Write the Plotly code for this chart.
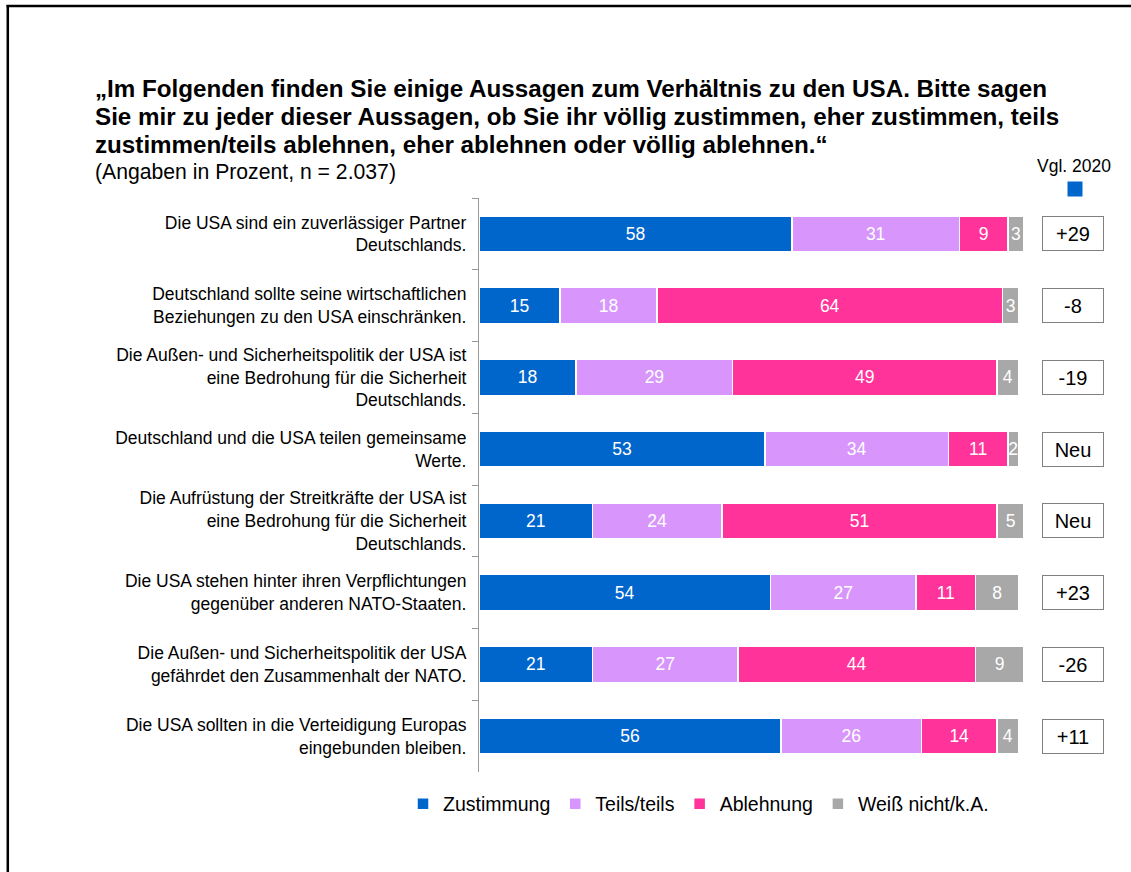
import plotly.graph_objects as go

labels = [
    "Die USA sind ein zuverlässiger Partner<br>Deutschlands.",
    "Deutschland sollte seine wirtschaftlichen<br>Beziehungen zu den USA einschränken.",
    "Die Außen- und Sicherheitspolitik der USA ist<br>eine Bedrohung für die Sicherheit<br>Deutschlands.",
    "Deutschland und die USA teilen gemeinsame<br>Werte.",
    "Die Aufrüstung der Streitkräfte der USA ist<br>eine Bedrohung für die Sicherheit<br>Deutschlands.",
    "Die USA stehen hinter ihren Verpflichtungen<br>gegenüber anderen NATO-Staaten.",
    "Die Außen- und Sicherheitspolitik der USA<br>gefährdet den Zusammenhalt der NATO.",
    "Die USA sollten in die Verteidigung Europas<br>eingebunden bleiben.",
]
zustimmung = [58, 15, 18, 53, 21, 54, 21, 56]
teils = [31, 18, 29, 34, 24, 27, 27, 26]
ablehnung = [9, 64, 49, 11, 51, 11, 44, 14]
weiss_nicht = [3, 3, 4, 2, 5, 8, 9, 4]
vgl_2020 = ["+29", "-8", "-19", "Neu", "Neu", "+23", "-26", "+11"]

title_lines = [
    "„Im Folgenden finden Sie einige Aussagen zum Verhältnis zu den USA. Bitte sagen",
    "Sie mir zu jeder dieser Aussagen, ob Sie ihr völlig zustimmen, eher zustimmen, teils",
    "zustimmen/teils ablehnen, eher ablehnen oder völlig ablehnen.“",
]
subtitle = "(Angaben in Prozent, n = 2.037)"

series = [
    ("Zustimmung", zustimmung, "#0066CC"),
    ("Teils/teils", teils, "#D896FC"),
    ("Ablehnung", ablehnung, "#FF3399"),
    ("Weiß nicht/k.A.", weiss_nicht, "#A8A8A8"),
]

FONT = "Liberation Sans, Arial, sans-serif"
W, H = 1131, 872
L, R, T, B = 479, 107, 198, 100
pw, ph = W - L - R, H - T - B


def px(x):
    return (x - L) / pw


def py(y):
    return (H - B - y) / ph


fig = go.Figure()
for name, vals, color in series:
    fig.add_trace(go.Bar(
        name=name, y=labels, x=vals, orientation="h",
        marker=dict(color=color, line=dict(color="white", width=1.5)),
        text=[str(v) for v in vals], textposition="inside",
        insidetextanchor="middle", constraintext="none",
        textfont=dict(color="white", size=17.5, family=FONT),
        width=0.5, cliponaxis=False,
    ))

annotations = []
for lab, v in zip(labels, vgl_2020):
    annotations.append(dict(
        xref="paper", yref="y", x=px(1073), y=lab, text=v, showarrow=False,
        font=dict(size=20, color="black", family=FONT),
        width=58, height=31, bordercolor="#808080", borderwidth=1,
        borderpad=1, bgcolor="white", xanchor="center", yanchor="middle",
    ))

for i, line in enumerate(title_lines):
    annotations.append(dict(
        xref="paper", yref="paper", x=px(93), y=py(88 + 28 * i),
        xanchor="left", yanchor="middle", showarrow=False,
        text="<b>" + line + "</b>",
        font=dict(size=24.2, color="black", family=FONT),
    ))
annotations.append(dict(
    xref="paper", yref="paper", x=px(93), y=py(172), xanchor="left", yanchor="middle",
    showarrow=False, text=subtitle,
    font=dict(size=21.2, color="black", family=FONT),
))
annotations.append(dict(
    xref="paper", yref="paper", x=px(1074), y=py(166), xanchor="center", yanchor="middle",
    showarrow=False, text="Vgl. 2020",
    font=dict(size=17.5, color="black", family=FONT),
))

shapes = [
    dict(type="rect", xref="paper", yref="paper", x0=px(1067.5), x1=px(1082.5),
         y0=py(196.5), y1=py(181.5), fillcolor="#0066CC", line=dict(width=0)),
    dict(type="line", xref="paper", yref="paper", x0=px(7.8), x1=px(7.8),
         y0=py(5), y1=py(880), line=dict(color="black", width=2.5)),
    dict(type="line", xref="paper", yref="paper", x0=px(6.5), x1=px(1140),
         y0=py(6), y1=py(6), line=dict(color="black", width=2.5)),
]

fig.update_layout(
    width=W, height=H,
    margin=dict(l=L, r=R, t=T, b=B),
    barmode="stack", bargap=0.5,
    plot_bgcolor="white", paper_bgcolor="white",
    font=dict(family=FONT, size=14, color="black"),
    showlegend=True,
    legend=dict(orientation="h", x=px(403), xanchor="left", y=py(804), yanchor="middle",
                font=dict(size=19.5, family=FONT), traceorder="normal",
                itemwidth=30),
    annotations=annotations, shapes=shapes,
)
fig.update_xaxes(range=[0, 101], visible=False, fixedrange=True)
fig.update_yaxes(
    autorange="reversed", type="category",
    showline=True, linecolor="#999999", linewidth=1.2,
    ticks="outside", tickson="boundaries", ticklen=6, tickcolor="#999999",
    tickfont=dict(size=17.5, family=FONT, color="black"),
    ticklabelstandoff=8, showgrid=False, zeroline=False,
)

fig.write_html("out.html", config={"displayModeBar": False},
               post_script="document.body.style.margin='0';")
